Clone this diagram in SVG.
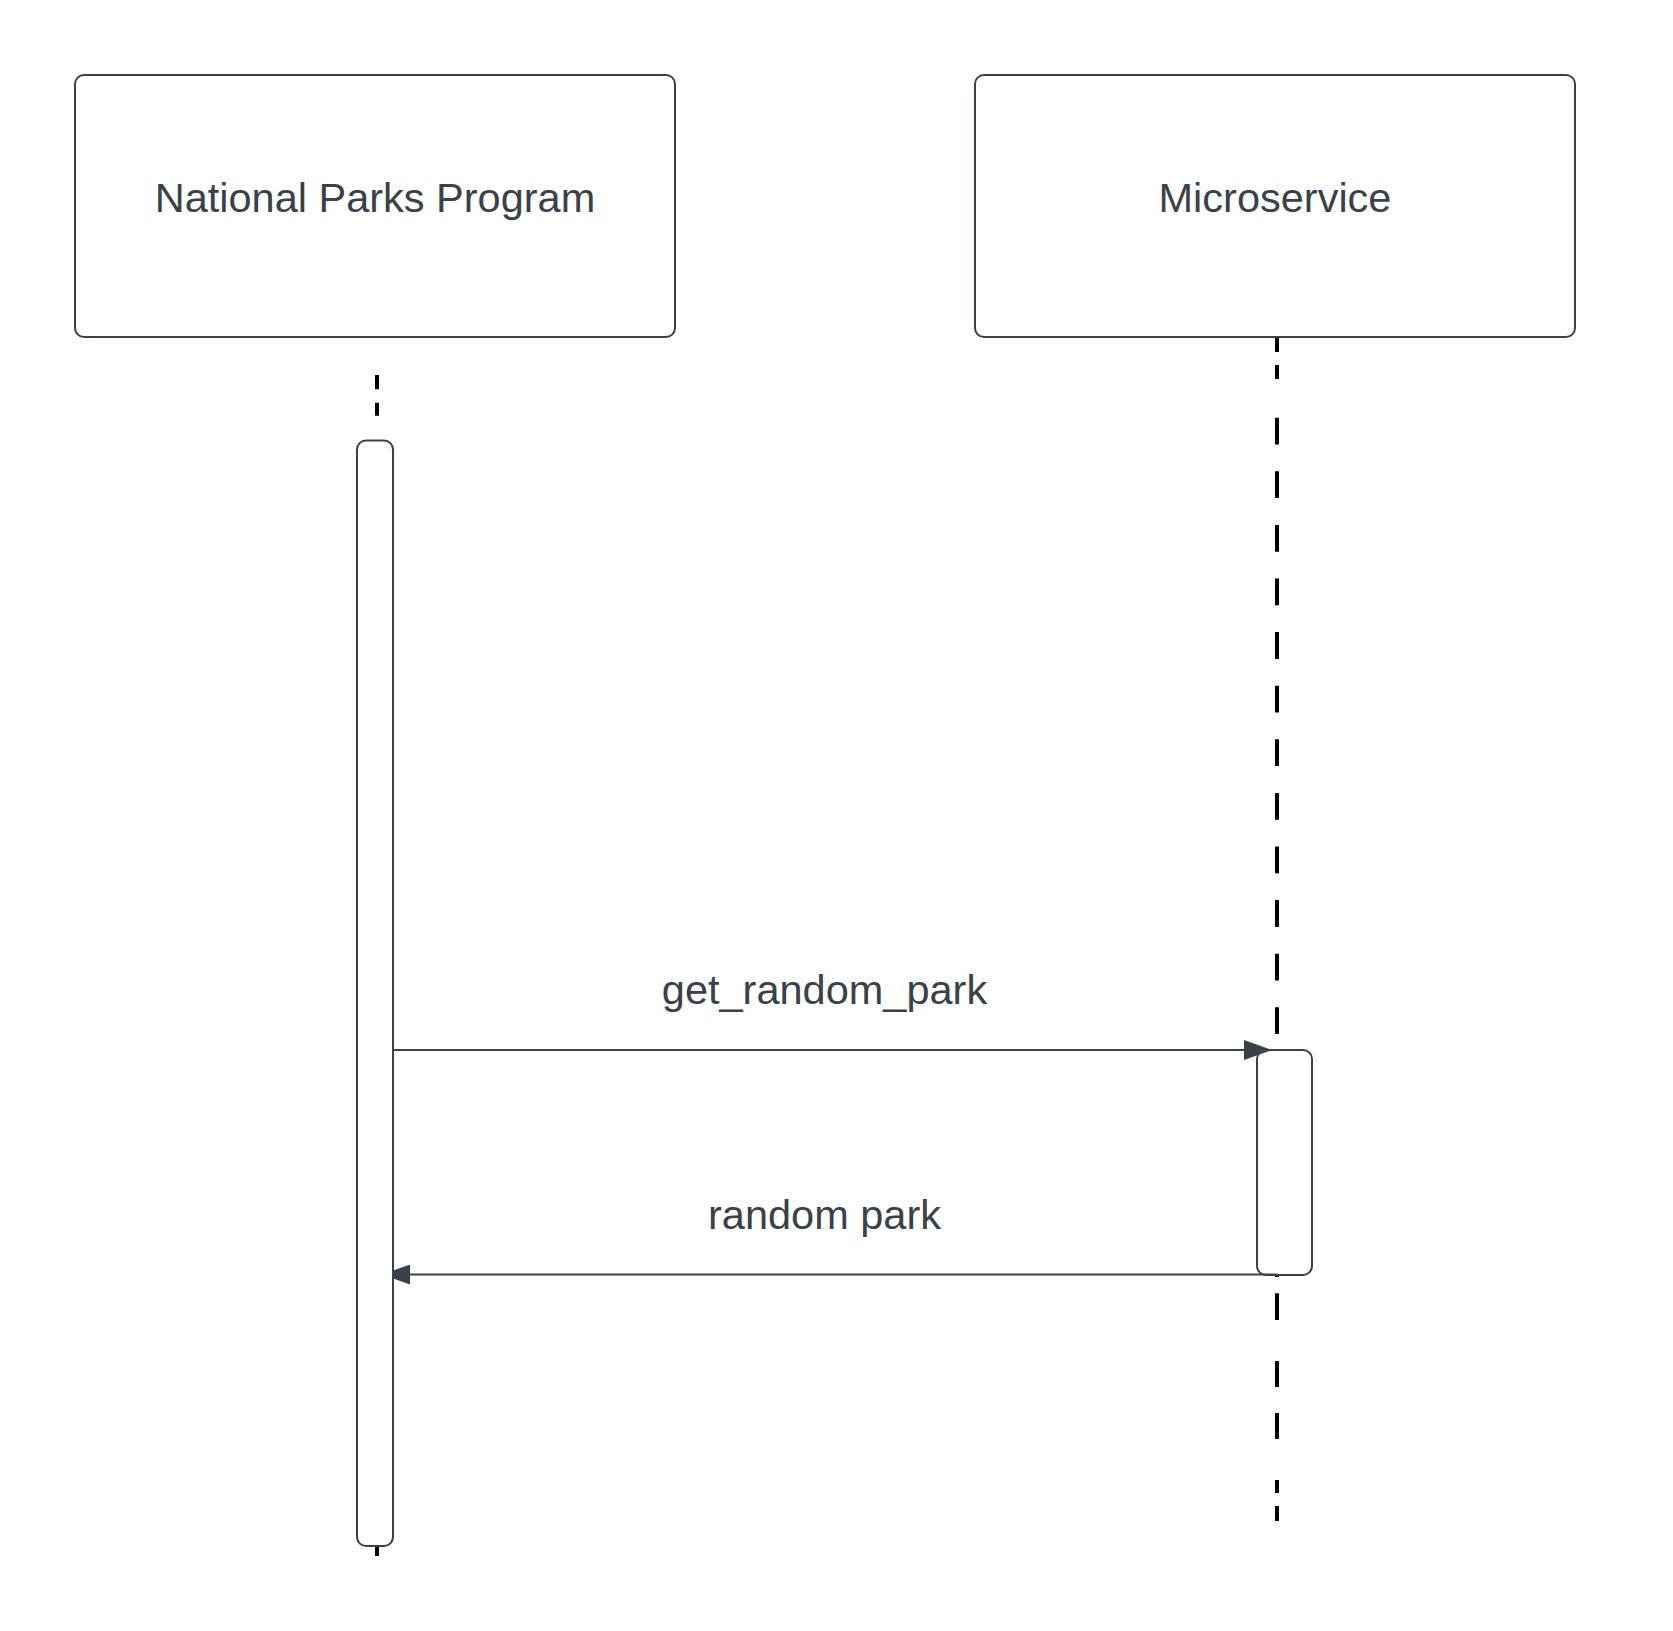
<svg xmlns="http://www.w3.org/2000/svg" width="1673" height="1631" viewBox="0 0 1673 1631">
<style>
.box{fill:#ffffff;stroke:#3a414a;stroke-width:2}
.bar{fill:#ffffff;stroke:#3a414a;stroke-width:2}
.life{fill:none;stroke:#000000;stroke-width:4}
.lbl{font-family:"Liberation Sans",Arial,sans-serif;font-size:41.5px;fill:#3a414a;text-anchor:middle}
.msg{fill:none;stroke:#3a414a;stroke-width:2}
</style>
<defs>
<marker id="arrow" markerUnits="userSpaceOnUse" viewBox="0 0 28 20" refX="28" refY="10" markerWidth="28" markerHeight="20" orient="auto">
<path d="M0,0 L28,10 L0,20 Z" fill="#3a414a"/>
</marker>
</defs>
<rect width="1673" height="1631" fill="#ffffff"/>
<g id="node-national-parks-program">
<path class="life" d="M377,375 V389.3 M377,402.7 V415.7 M377,1546 V1556"/>
<rect class="box" x="75" y="75" width="600" height="262" rx="9"/>
<text class="lbl" x="375" y="212">National Parks Program</text>
</g>
<g id="node-microservice">
<path class="life" d="M1277,337 V352 M1277,365 V379 M1277,1275 V1277 M1277,1293.3 V1320 M1277,1361 V1387 M1277,1413 V1439 M1277,1480 V1493 M1277,1506 V1521"/>
<path class="life" d="M1277,417.7 V1034.1" stroke-dasharray="26.8 26.8"/>
<rect class="box" x="975" y="75" width="600" height="262" rx="9"/>
<text class="lbl" x="1275" y="212">Microservice</text>
</g>
<g id="activation-microservice">
<rect class="bar" x="1257" y="1050" width="55" height="225" rx="9"/>
</g>
<g id="connectors">
<line class="msg" x1="393" y1="1050" x2="1272" y2="1050" marker-end="url(#arrow)"/>
<text class="lbl" x="824.5" y="1003.5">get_random_park</text>
<line class="msg" x1="1277" y1="1274.5" x2="382" y2="1274.5" marker-end="url(#arrow)"/>
<text class="lbl" x="824.5" y="1228.5">random park</text>
</g>
<g id="activation-national-parks-program">
<rect class="bar" x="357" y="440.5" width="36" height="1105.5" rx="9"/>
</g>
</svg>
